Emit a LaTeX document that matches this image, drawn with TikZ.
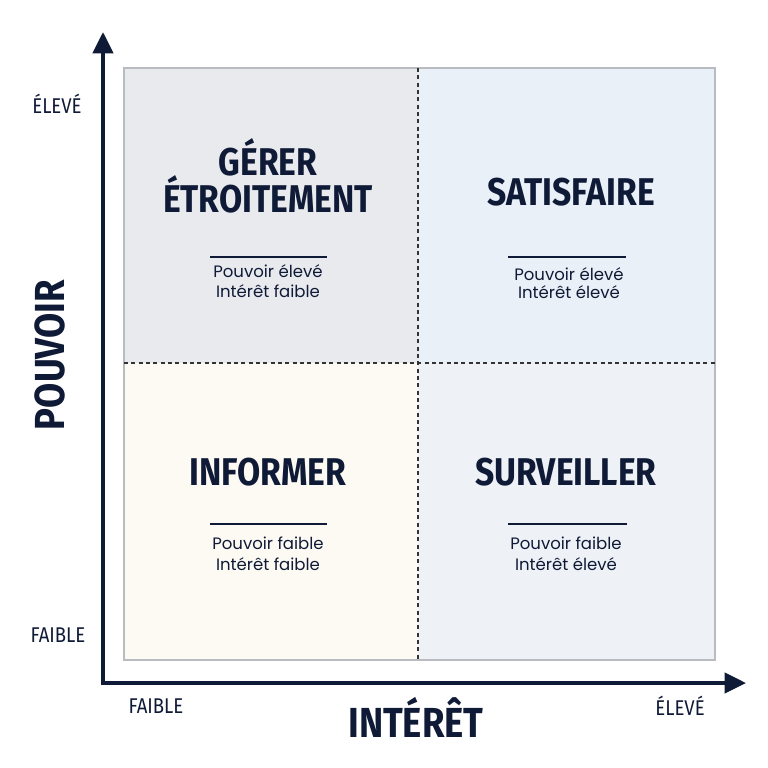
\documentclass[tikz,border=0pt]{standalone}
\usepackage{fontspec}
\setmainfont{Poppins}
\newfontfamily\headfont[FakeStretch=0.87]{Fira Sans}
\newfontfamily\smallfont{Poppins}
\usetikzlibrary{arrows.meta}
\definecolor{navy}{HTML}{0F1A36}
\definecolor{qTL}{HTML}{E8EAEE}
\definecolor{qTR}{HTML}{EAF0F8}
\definecolor{qBL}{HTML}{FDFAF3}
\definecolor{qBR}{HTML}{EEF1F5}
\definecolor{frame}{HTML}{B8BBC0}
\tikzset{
  head/.style={font=\headfont\bfseries\fontsize{29}{30}\selectfont, text=navy, align=center, inner sep=0pt},
  sub/.style={font=\smallfont\fontsize{12.4}{15.5}\selectfont, text=navy, align=center, inner sep=0pt},
  axlab/.style={font=\headfont\fontsize{16}{18}\selectfont, text=navy, inner sep=0pt},
  axtitle/.style={font=\headfont\bfseries\fontsize{31.5}{33}\selectfont, text=navy, inner sep=0pt},
  rule/.style={navy, line width=1.2pt},
  divider/.style={black!80, line width=0.8pt, dash pattern=on 3pt off 2.5pt},
  axis/.style={navy, line width=3pt, -{Triangle[length=16pt,width=15pt]}}
}
\begin{document}
\begin{tikzpicture}[x=0.75pt,y=-0.75pt]
\useasboundingbox (0,0) rectangle (768,768);
% quadrants
\fill[qTL] (124,68) rectangle (418,363);
\fill[qTR] (418,68) rectangle (715,363);
\fill[qBL] (124,363) rectangle (418,660);
\fill[qBR] (418,363) rectangle (715,660);
\draw[frame, line width=0.8pt] (124,68) rectangle (715,660);
\draw[divider] (418,68) -- (418,660);
\draw[divider] (124,363) -- (715,363);
% axes
\coordinate (origin) at (103,683);
\coordinate (ytip) at (103,32);
\coordinate (xtip) at (746,683);
\draw[axis, line cap=rect] (origin) -- (ytip);
\draw[axis, line cap=rect] (origin) -- (xtip);
% quadrant texts
\node[head] (h1) at (268,176) {GÉRER\\[-2pt]ÉTROITEMENT};
\draw[rule] (210,257) -- (327,257);
\node[sub] (s1) at (268,281) {Pouvoir élevé\\Intérêt faible};

\node[head] (h2) at (571,192) {SATISFAIRE};
\draw[rule] (508,257) -- (626,257);
\node[sub, font=\smallfont\fontsize{12.4}{13}\selectfont] (s2) at (569,283) {Pouvoir élevé\\Intérêt élevé};

\node[head] (h3) at (268,472) {INFORMER};
\draw[rule] (210,524) -- (327,524);
\node[sub] (s3) at (268,554) {Pouvoir faible\\Intérêt faible};

\node[head] (h4) at (566,472) {SURVEILLER};
\draw[rule] (508,524) -- (627,524);
\node[sub] (s4) at (566,554) {Pouvoir faible\\Intérêt élevé};

% axis labels
\node[axlab] (yhigh) at (57,104) {ÉLEVÉ};
\node[axlab] (ylow) at (58,635) {FAIBLE};
\node[axlab] (xlow) at (156,706) {FAIBLE};
\node[axlab] (xhigh) at (680,706) {ÉLEVÉ};
\node[axtitle] (xt) at (416,717) {INTÉRÊT};
\node[axtitle, rotate=90] (yt) at (50,355) {POUVOIR};
\end{tikzpicture}
\end{document}
